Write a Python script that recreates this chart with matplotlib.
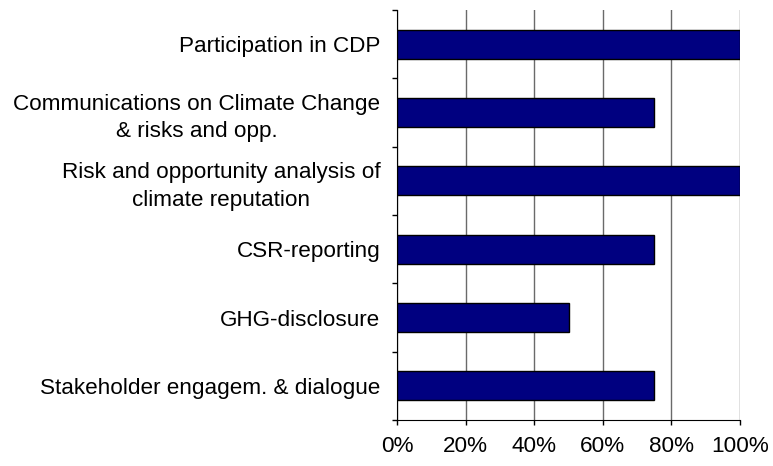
import numpy as np
import matplotlib
matplotlib.use("Agg")
import matplotlib.pyplot as plt
from matplotlib.ticker import FixedLocator, NullFormatter

categories = [
    "Participation in CDP",
    "Communications on Climate Change\n& risks and opp.",
    "Risk and opportunity analysis of\nclimate reputation",
    "CSR-reporting",
    "GHG-disclosure",
    "Stakeholder engagem. & dialogue",
]
values = [100, 75, 100, 75, 50, 75]
xticks = [0, 20, 40, 60, 80, 100]
xtick_labels = ["0%", "20%", "40%", "60%", "80%", "100%"]

plt.rcParams['font.family'] = ['Liberation Sans', 'DejaVu Sans']

fig = plt.figure(figsize=(7.73, 4.66), dpi=100)
ax = fig.add_axes([397 / 773, 1 - 420 / 466, 343 / 773, 410 / 466])

n = len(categories)
ypos = np.arange(n)
ax.barh(ypos, values, height=0.42, color='#000080', edgecolor='black', linewidth=1.0, zorder=3)

ax.set_xlim(0, 100)
ax.set_ylim(n - 0.5, -0.5)

ax.set_xticks(xticks)
ax.set_xticklabels(xtick_labels, fontsize=16.2)
ax.xaxis.grid(True, color='#6a6a6a', linewidth=1.0, zorder=0)

# category labels, separator ticks between categories
ax.set_yticks(ypos)
ax.set_yticklabels(categories, fontsize=16.2, ha='right', multialignment='center',
                   linespacing=1.4)
ax.tick_params(axis='y', which='major', length=0, pad=12)
ax.yaxis.set_minor_locator(FixedLocator(np.arange(-0.5, n, 1.0)))
ax.yaxis.set_minor_formatter(NullFormatter())
ax.tick_params(axis='y', which='minor', length=3.6, width=1, color='black')
ax.tick_params(axis='x', length=3.6, width=1, pad=8)

ax.spines['top'].set_visible(False)
ax.spines['right'].set_visible(False)
ax.spines['left'].set_color('black')
ax.spines['bottom'].set_color('black')

fig.savefig("out.png", dpi=100)
